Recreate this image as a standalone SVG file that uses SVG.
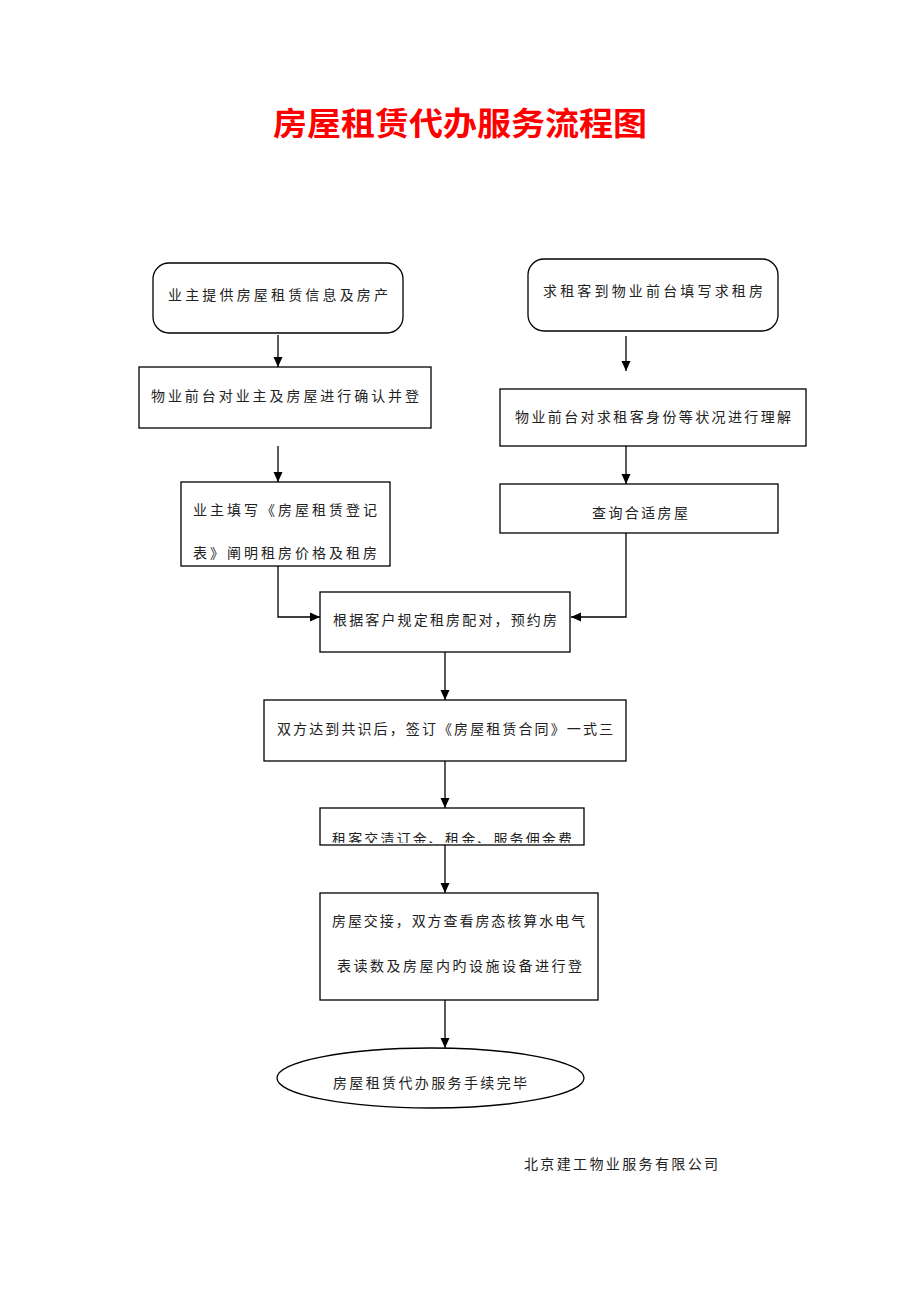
<svg xmlns="http://www.w3.org/2000/svg" width="920" height="1302" viewBox="0 0 920 1302">
<style>
.b{fill:#fff;stroke:#000;stroke-width:1.3}
.t{font-family:"Noto Sans CJK SC","Noto Sans",sans-serif;font-size:14px;fill:#222;dominant-baseline:central}
.c{fill:none;stroke:#000;stroke-width:1.3}
</style>
<defs>
<marker id="ah" viewBox="0 0 10 10" refX="10" refY="5" markerWidth="10" markerHeight="10" markerUnits="userSpaceOnUse" orient="auto">
<path d="M0,0.5 L10,5 L0,9.5 Z" fill="#000"/>
</marker>
<clipPath id="clip6"><rect x="320" y="808" width="264" height="35"/></clipPath>
</defs>
<rect width="920" height="1302" fill="#fff"/>
<text x="273" y="121" font-family="'Noto Sans CJK SC',sans-serif" font-size="32" font-weight="bold" fill="#f00" dominant-baseline="central" textLength="374" lengthAdjust="spacingAndGlyphs">房屋租赁代办服务流程图</text>

<g id="n1"><rect class="b" x="153" y="263" width="250" height="70" rx="16"/><text class="t" x="168" y="294" textLength="220" lengthAdjust="spacing">业主提供房屋租赁信息及房产</text></g>
<g id="n2"><rect class="b" x="139" y="367" width="292" height="61"/><text class="t" x="151" y="395" textLength="268" lengthAdjust="spacing">物业前台对业主及房屋进行确认并登</text></g>
<g id="n3"><rect class="b" x="181" y="482" width="209" height="84"/><text class="t" x="193" y="509" textLength="184" lengthAdjust="spacing">业主填写《房屋租赁登记</text><text class="t" x="193" y="552" textLength="184" lengthAdjust="spacing">表》阐明租房价格及租房</text></g>
<g id="r1"><rect class="b" x="528" y="259" width="250" height="72" rx="16"/><text class="t" x="543" y="290" textLength="220" lengthAdjust="spacing">求租客到物业前台填写求租房</text></g>
<g id="r2"><rect class="b" x="500" y="389" width="306" height="57"/><text class="t" x="515" y="416" textLength="276" lengthAdjust="spacing">物业前台对求租客身份等状况进行理解</text></g>
<g id="r3"><rect class="b" x="500" y="484" width="278" height="49"/><text class="t" x="592" y="512" textLength="96" lengthAdjust="spacing">查询合适房屋</text></g>
<g id="n4"><rect class="b" x="320" y="592" width="250" height="60"/><text class="t" x="333" y="619" textLength="224" lengthAdjust="spacing">根据客户规定租房配对，预约房</text></g>
<g id="n5"><rect class="b" x="264" y="700" width="362" height="61"/><text class="t" x="277" y="728" textLength="336" lengthAdjust="spacing">双方达到共识后，签订《房屋租赁合同》一式三</text></g>
<g id="n6"><rect class="b" x="320" y="808" width="264" height="37"/><text class="t" x="332" y="838" textLength="240" lengthAdjust="spacing" clip-path="url(#clip6)">租客交清订金、租金、服务佣金费</text></g>
<g id="n7"><rect class="b" x="320" y="893" width="278" height="107"/><text class="t" x="332" y="920" textLength="253" lengthAdjust="spacing">房屋交接，双方查看房态核算水电气</text><text class="t" x="337" y="965" textLength="245" lengthAdjust="spacing">表读数及房屋内旳设施设备进行登</text></g>
<g id="n8"><ellipse class="b" cx="430.500" cy="1078" rx="153.500" ry="30"/><text class="t" x="333" y="1082" textLength="194" lengthAdjust="spacing">房屋租赁代办服务手续完毕</text></g>
<g id="footer"><text class="t" x="524" y="1163" textLength="194" lengthAdjust="spacing">北京建工物业服务有限公司</text></g>

<g id="connectors">
<line class="c" x1="278" y1="335" x2="278" y2="367" marker-end="url(#ah)"/>
<line class="c" x1="278" y1="446" x2="278" y2="482" marker-end="url(#ah)"/>
<polyline class="c" points="278,566 278,617 320,617" marker-end="url(#ah)"/>
<line class="c" x1="626" y1="336" x2="626" y2="371" marker-end="url(#ah)"/>
<line class="c" x1="626" y1="446" x2="626" y2="484" marker-end="url(#ah)"/>
<polyline class="c" points="626,533 626,617 571,617" marker-end="url(#ah)"/>
<line class="c" x1="445" y1="652" x2="445" y2="700" marker-end="url(#ah)"/>
<line class="c" x1="445" y1="761" x2="445" y2="808" marker-end="url(#ah)"/>
<line class="c" x1="445" y1="845" x2="445" y2="893" marker-end="url(#ah)"/>
<line class="c" x1="445" y1="1000" x2="445" y2="1048" marker-end="url(#ah)"/>
</g>
</svg>
